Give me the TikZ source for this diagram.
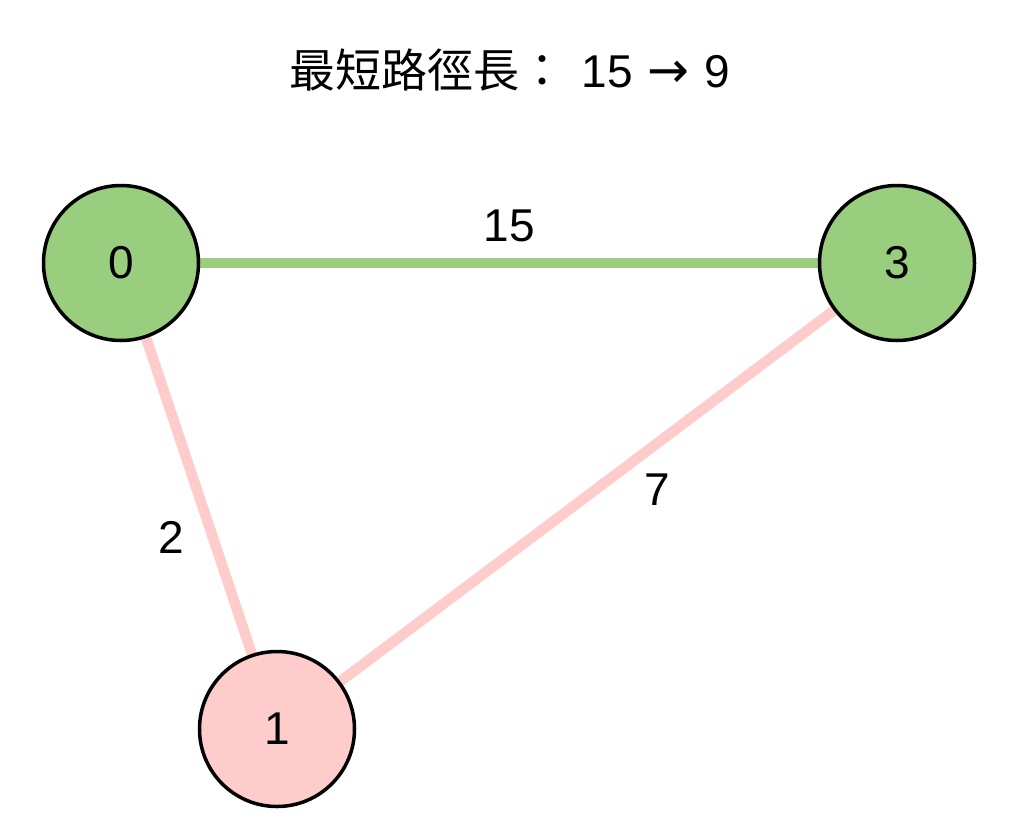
\documentclass[tikz,border=0pt]{standalone}
\usepackage{fontspec}
\usetikzlibrary{backgrounds}
\setmainfont{Liberation Sans}
\newfontfamily\cjkfont{Noto Sans CJK TC}
\newfontfamily\arrowfont{DejaVu Sans}
\definecolor{nodegreen}{HTML}{9ACE7F}
\definecolor{nodepink}{HTML}{FFCCCC}
\begin{document}
\begin{tikzpicture}[x=1pt,y=-1pt,
  vertex/.style={circle,draw=black,line width=3.5pt,minimum size=155pt,inner sep=0pt,font=\fontsize{46}{50}\selectfont},
  lbl/.style={font=\fontsize{46}{50}\selectfont,inner sep=0pt},
  greenedge/.style={draw=nodegreen,line width=10.5pt},
  pinkedge/.style={draw=nodepink,line width=10.5pt}]
\useasboundingbox (0,0) rectangle (1024,838);
\node[lbl,anchor=base] (title) at (510,87) {{\cjkfont 最短路徑長：}\hspace{16pt}15\hspace{2pt} {\arrowfont\fontsize{50}{50}\selectfont →}\hspace{2pt} 9};
\node[vertex,fill=nodegreen] (n0) at (121,263) {0};
\node[vertex,fill=nodegreen] (n3) at (897,263) {3};
\node[vertex,fill=nodepink] (n1) at (277,729) {1};
\begin{scope}[on background layer]
\path[greenedge] (n0) -- (n3);
\path[pinkedge] (n0) -- (n1);
\path[pinkedge] (n1) -- (n3);
\end{scope}
\node[lbl] (w03) at (509,226) {15};
\node[lbl] (w01) at (171,537) {2};
\node[lbl] (w13) at (657,490) {7};
\end{tikzpicture}
\end{document}
